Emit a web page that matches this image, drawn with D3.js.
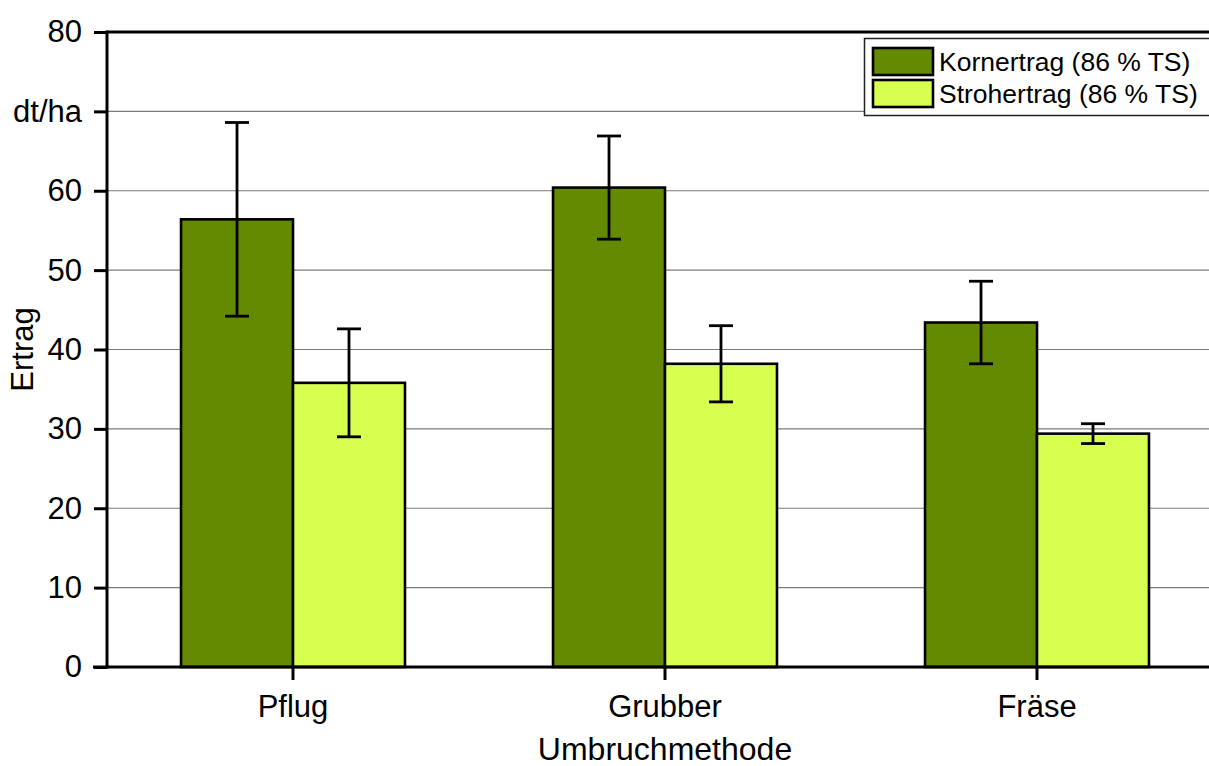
<!DOCTYPE html>
<html>
<head>
<meta charset="utf-8">
<script src="https://cdn.jsdelivr.net/npm/d3@7"></script>
<style>
  html, body { margin: 0; padding: 0; background: #fff; }
  svg { display: block; font-family: "Liberation Sans", Arial, sans-serif; }
</style>
</head>
<body>
<svg id="chart" width="1209" height="766"></svg>
<script>
// Yield per tillage method (dt/ha), means with error half-widths
const categories = ["Pflug", "Grubber", "Fräse"];
const seriesNames = ["Kornertrag (86 % TS)", "Strohertrag (86 % TS)"];
const kornValues = [56.4, 60.4, 43.4];
const kornErrors = [12.2, 6.5, 5.2];
const strohValues = [35.8, 38.2, 29.4];
const strohErrors = [6.8, 4.8, 1.25];
const yTicks = [0, 10, 20, 30, 40, 50, 60, 70, 80];
const yTickLabels = ["0", "10", "20", "30", "40", "50", "60", "dt/ha", "80"];

const colors = ["#638a00", "#d6ff50"];

const svg = d3.select("#chart");
const plotLeft = 107, plotTop = 32, plotBottom = 667, plotRight = 1223;

const x = d3.scaleBand()
  .domain(categories)
  .range([plotLeft, plotRight])
  .paddingInner(0.398)
  .paddingOuter(0.199);

const xs = d3.scaleBand()
  .domain(seriesNames)
  .range([0, x.bandwidth()])
  .padding(0);

const y = d3.scaleLinear().domain([0, 80]).range([plotBottom, plotTop]);

const rows = categories.map((c, i) => ({
  cat: c,
  vals: [
    { s: seriesNames[0], v: kornValues[i], e: kornErrors[i], c: colors[0] },
    { s: seriesNames[1], v: strohValues[i], e: strohErrors[i], c: colors[1] }
  ]
}));

// horizontal gridlines
svg.append("g")
  .selectAll("line")
  .data(yTicks.filter(t => t > 0 && t < 80))
  .join("line")
  .attr("x1", plotLeft).attr("x2", plotRight)
  .attr("y1", d => y(d)).attr("y2", d => y(d))
  .attr("stroke", "#7a7a7a")
  .attr("stroke-width", 1.2);

// bars
const groups = svg.append("g")
  .selectAll("g")
  .data(rows)
  .join("g")
  .attr("transform", d => `translate(${x(d.cat)},0)`);

groups.selectAll("rect")
  .data(d => d.vals)
  .join("rect")
  .attr("x", d => xs(d.s))
  .attr("y", d => y(d.v))
  .attr("width", xs.bandwidth())
  .attr("height", d => y(0) - y(d.v))
  .attr("fill", d => d.c)
  .attr("stroke", "#000")
  .attr("stroke-width", 2.6);

// error bars
const capW = 12;
const eb = groups.selectAll("g.err")
  .data(d => d.vals)
  .join("g")
  .attr("class", "err")
  .attr("stroke", "#000")
  .attr("stroke-width", 2.8);

eb.append("line")
  .attr("x1", d => xs(d.s) + xs.bandwidth() / 2)
  .attr("x2", d => xs(d.s) + xs.bandwidth() / 2)
  .attr("y1", d => y(d.v + d.e))
  .attr("y2", d => y(d.v - d.e));
eb.append("line")
  .attr("x1", d => xs(d.s) + xs.bandwidth() / 2 - capW)
  .attr("x2", d => xs(d.s) + xs.bandwidth() / 2 + capW)
  .attr("y1", d => y(d.v + d.e))
  .attr("y2", d => y(d.v + d.e));
eb.append("line")
  .attr("x1", d => xs(d.s) + xs.bandwidth() / 2 - capW)
  .attr("x2", d => xs(d.s) + xs.bandwidth() / 2 + capW)
  .attr("y1", d => y(d.v - d.e))
  .attr("y2", d => y(d.v - d.e));

// top frame line
svg.append("line")
  .attr("x1", plotLeft).attr("x2", plotRight)
  .attr("y1", plotTop).attr("y2", plotTop)
  .attr("stroke", "#000").attr("stroke-width", 3);

// y axis
const yAxis = svg.append("g")
  .attr("transform", `translate(${plotLeft},0)`)
  .call(d3.axisLeft(y)
    .tickValues(yTicks)
    .tickFormat((d, i) => yTickLabels[i])
    .tickSize(13)
    .tickPadding(12));
yAxis.select(".domain").attr("stroke-width", 3).attr("d", `M0,${plotTop - 1.5}V${plotBottom + 1.5}`);
yAxis.selectAll(".tick line").attr("stroke-width", 3);
yAxis.selectAll(".tick text")
  .attr("font-size", 31)
  .attr("font-family", "Liberation Sans, Arial, sans-serif")
  .attr("fill", "#000");

// x axis
const xAxis = svg.append("g")
  .attr("transform", `translate(0,${plotBottom})`)
  .call(d3.axisBottom(x).tickSize(13).tickPadding(15));
xAxis.select(".domain").attr("stroke-width", 3).attr("d", `M${plotLeft - 14},0H${plotRight}`);
xAxis.selectAll(".tick line").attr("stroke-width", 3);
xAxis.selectAll(".tick text")
  .attr("font-size", 31)
  .attr("font-family", "Liberation Sans, Arial, sans-serif")
  .attr("fill", "#000");

// axis titles
svg.append("text")
  .attr("x", 665)
  .attr("y", 760)
  .attr("text-anchor", "middle")
  .attr("font-size", 32)
  .text("Umbruchmethode");

svg.append("text")
  .attr("transform", `translate(33,${(plotTop + plotBottom) / 2}) rotate(-90)`)
  .attr("text-anchor", "middle")
  .attr("font-size", 31)
  .text("Ertrag");

// legend
const lg = svg.append("g");
lg.append("rect")
  .attr("x", 864.5).attr("y", 38.5)
  .attr("width", 360).attr("height", 77)
  .attr("fill", "#fff")
  .attr("stroke", "#222").attr("stroke-width", 1.5);

const items = lg.selectAll("g.item")
  .data(seriesNames)
  .join("g")
  .attr("class", "item")
  .attr("transform", (d, i) => `translate(873,${48 + i * 32})`);
items.append("rect")
  .attr("width", 60).attr("height", 27)
  .attr("fill", (d, i) => colors[i])
  .attr("stroke", "#000").attr("stroke-width", 2.6);
items.append("text")
  .attr("x", 66).attr("y", 14)
  .attr("dy", "0.35em")
  .attr("font-size", 26.5)
  .text(d => d);
</script>
</body>
</html>
